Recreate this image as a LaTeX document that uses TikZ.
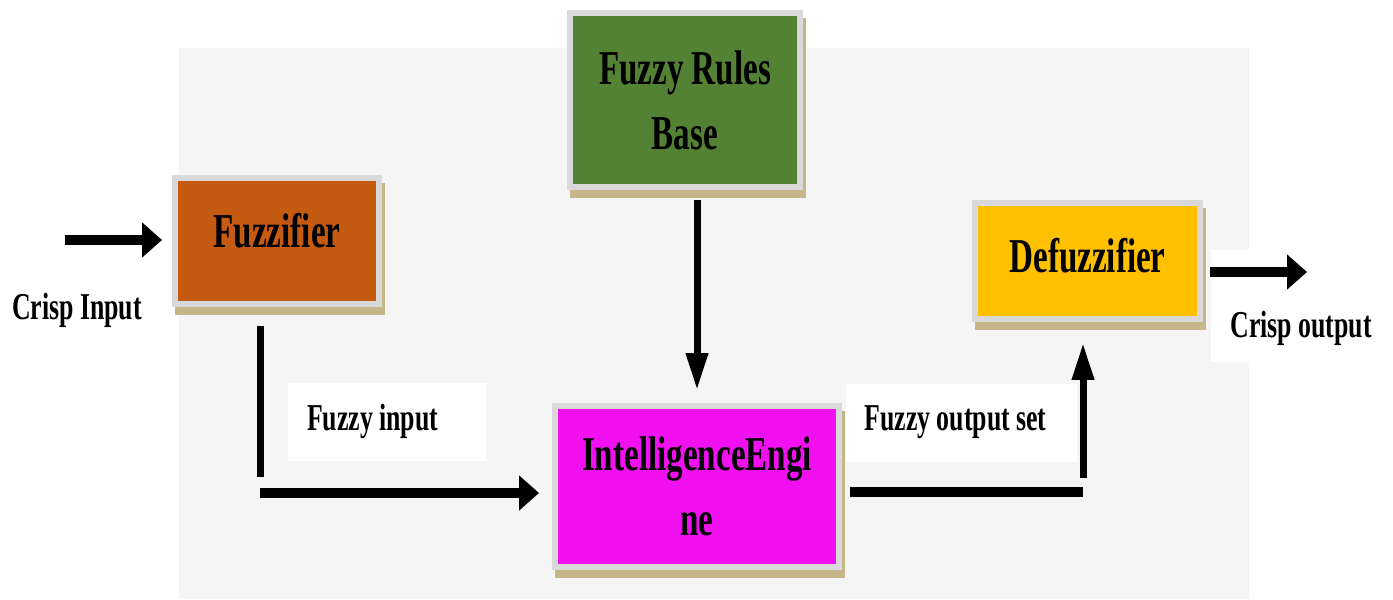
\documentclass[tikz,border=0pt]{standalone}
\usepackage{fontspec}
\newfontfamily\diagfont{Liberation Serif}[FakeStretch=0.68]
\usetikzlibrary{arrows.meta, shadows}

\definecolor{bggray}{RGB}{245,245,245}
\definecolor{framegray}{RGB}{217,217,217}
\definecolor{shadowtan}{RGB}{197,182,137}
\definecolor{fuzzorange}{RGB}{197,90,17}
\definecolor{rulesgreen}{RGB}{84,130,53}
\definecolor{enginemagenta}{RGB}{240,16,240}
\definecolor{defuzzyellow}{RGB}{255,192,0}

\newcommand{\tightspaces}{\spaceskip=0pt\relax}

\begin{document}
\begin{tikzpicture}[x=0.02cm, y=-0.02cm, thick]

    % Define styles
    \tikzstyle{block} = [draw=framegray, line width=0.12cm, rectangle, align=center, inner sep=0pt,
        font=\diagfont\bfseries\fontsize{27.7}{37}\selectfont,
        drop shadow={shadow xshift=0.06cm, shadow yshift=-0.16cm, fill=shadowtan, draw=shadowtan, opacity=1}]
    \tikzstyle{lbl} = [font=\diagfont\bfseries\fontsize{21.6}{26}\selectfont, inner sep=0pt]
    \tikzstyle{lblbox} = [lbl, fill=white, align=left, inner xsep=0.38cm, minimum height=1.56cm,
        execute at begin node=\tightspaces]
    \tikzstyle{hflow} = [line width=0.2cm, -{Triangle[length=0.4cm, width=0.68cm]}]
    \tikzstyle{vflow} = [line width=0.14cm, -{Triangle[length=0.74cm, width=0.42cm]}]
    \tikzstyle{hline} = [line width=0.2cm]
    \tikzstyle{vline} = [line width=0.14cm]

    % BACKGROUND
    \useasboundingbox (0,0) rectangle (1393,599);
    \fill[bggray] (179,48) rectangle (1249,599);
    \fill[white] (1211,250) rectangle (1393,362);

    % BLOCKS
    \node (fuzz) [block, fill=fuzzorange, minimum width=4.08cm, minimum height=2.52cm, text depth=0.42cm] at (277,241) {Fuzzifier};
    \node (rules) [block, fill=rulesgreen, minimum width=4.6cm, minimum height=3.48cm] at (685,100) {Fuzzy Rules\\Base};
    \node (engine) [block, fill=enginemagenta, minimum width=5.68cm, minimum height=3.22cm] at (697,486.5) {IntelligenceEngi\\ne};
    \node (defuzz) [block, fill=defuzzyellow, minimum width=4.5cm, minimum height=2.32cm, text depth=0.22cm] at (1087.5,261) {Defuzzifier};

    % LABELS
    \node (crispin_lbl) [lbl] at (77,310) {Crisp Input};
    \node (fuzzin_lbl) [lblbox, text width=3.2cm] at (387,421.5) {Fuzzy input};
    \node (fuzzout_lbl) [lblbox, text width=3.88cm] at (961.5,422.5) {Fuzzy output set};
    \node (crispout_lbl) [lbl] at (1301,328) {Crisp output};

    % CONNECTIONS
    \coordinate (crispin) at (65,240);
    \coordinate (fuzzdown) at (260,477);
    \coordinate (fuzzright) at (260,493);
    \coordinate (defin) at (1083,492);
    \coordinate (defup) at (1083,478);
    \coordinate (crispout) at (1307,272);

    \draw[hflow, shorten >=0.2cm] (crispin) -- (crispin -| fuzz.west);
    \draw[vline, shorten <=0.38cm] (fuzzdown |- fuzz.south) -- (fuzzdown);
    \draw[hflow, shorten >=0.26cm] (fuzzright) -- (fuzzright -| engine.west);
    \draw[vflow, shorten <=0.2cm, shorten >=0.26cm] (rules.south -| engine.north) -- (engine.north);
    \draw[hline, shorten <=0.16cm] (engine.east |- defin) -- (defin);
    \draw[vflow, shorten >=0.42cm] (defup) -- (defup |- defuzz.south);
    \draw[hflow, shorten <=0.14cm] (crispout -| defuzz.east) -- (crispout);

\end{tikzpicture}
\end{document}
